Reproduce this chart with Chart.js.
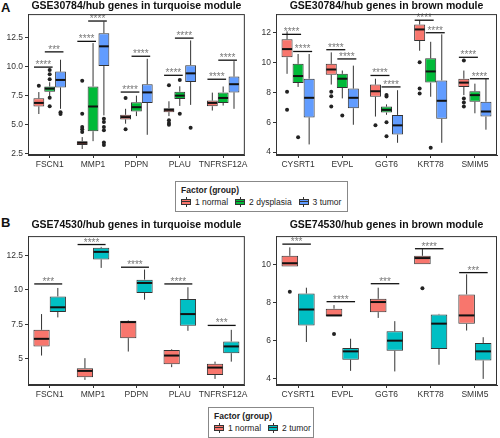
<!DOCTYPE html>
<html>
<head>
<meta charset="UTF-8" />
<title>Hub genes boxplots</title>
<script src="https://cdn.jsdelivr.net/npm/chart.js@4/dist/chart.umd.min.js"></script>
<style>
  body { margin: 0; background: #fff; font-family: "Liberation Sans", Arial, sans-serif; }
  #fig { position: relative; width: 500px; height: 438px; overflow: hidden; background: #fff; }
  .pane { position: absolute; }
  .tag { position: absolute; left: 1px; font-weight: bold; font-size: 13px; color: #111; }
  .legend { position: absolute; border: 1px solid #888; box-sizing: border-box; background: #fff;
            font-size: 8.5px; line-height: 10px; color: #222; padding: 3px 0 0 5px; white-space: nowrap; }
  .legend b { display: block; font-size: 8.5px; margin-bottom: 2px; }
  .legend .it { display: inline-block; margin-right: 7px; }
  .key { display: inline-block; position: relative; width: 10px; height: 10px; vertical-align: middle; margin-right: 4px; top: -1px; }
  .key::before { content: ''; position: absolute; left: 4.5px; top: 0; bottom: 0; width: 1px; background: #333; }
  .key i { position: absolute; left: 0; right: 0; top: 2px; bottom: 2px; border: 1px solid #333; }
  .key i::after { content: ''; position: absolute; left: 0; right: 0; top: 50%; height: 1px; margin-top: -0.5px; background: #333; }
</style>
</head>
<body>
<div id="fig">
  <div class="tag" style="top:0px">A</div>
  <div class="tag" style="top:215px">B</div>
  <div class="pane" style="left:0;top:0;width:250px;height:175px"><canvas id="a1"></canvas></div>
  <div class="pane" style="left:250px;top:0;width:250px;height:175px"><canvas id="a2"></canvas></div>
  <div class="legend" style="left:175px;top:181px;width:173px;height:31px">
    <b>Factor (group)</b>
    <span class="it"><span class="key"><i style="background:#F8766D"></i></span>1 normal</span><span class="it"><span class="key"><i style="background:#00BA38"></i></span>2 dysplasia</span><span class="it" style="margin-right:0"><span class="key"><i style="background:#619CFF"></i></span>3 tumor</span>
  </div>
  <div class="pane" style="left:0;top:215px;width:250px;height:190px"><canvas id="b1"></canvas></div>
  <div class="pane" style="left:250px;top:215px;width:250px;height:190px"><canvas id="b2"></canvas></div>
  <div class="legend" style="left:208px;top:407px;width:106px;height:31px">
    <b>Factor (group)</b>
    <span class="it"><span class="key"><i style="background:#F8766D"></i></span>1 normal</span><span class="it" style="margin-right:0"><span class="key"><i style="background:#00BFC4"></i></span>2 tumor</span>
  </div>
</div>

<script>
// genes on the x axis
var genesTurq = ['FSCN1', 'MMP1', 'PDPN', 'PLAU', 'TNFRSF12A'];
var genesBrown = ['CYSRT1', 'EVPL', 'GGT6', 'KRT78', 'SMIM5'];

// each box: [lower whisker, Q1, median, Q3, upper whisker]
// GSE30784 turquoise
var a1Normal    = [[5.9, 6.55, 6.86, 7.26, 7.8], [2.87, 3.21, 3.41, 3.55, 3.9], [5.06, 5.43, 5.63, 5.83, 6.35], [5.72, 6.06, 6.26, 6.4, 7.0], [6.2, 6.57, 6.86, 7.06, 7.75]];
var a1Dysplasia = [[7.45, 7.83, 8.1, 8.28, 8.65], [3.55, 4.41, 6.55, 8.28, 12.04], [5.72, 6.12, 6.49, 6.92, 7.49], [6.6, 7.2, 7.49, 7.83, 8.3], [6.63, 6.86, 7.29, 7.77, 8.28]];
var a1Tumor     = [[6.35, 8.2, 8.85, 9.57, 10.6], [5.78, 10.05, 11.76, 12.9, 13.9], [4.1, 6.86, 7.77, 8.48, 10.68], [6.69, 8.68, 9.42, 10.13, 12.27], [6.35, 7.77, 8.48, 9.14, 10.48]];
var a1NormalOut    = [[8.35], [8.77, 5.92, 4.78, 4.58, 4.35], [7.29, 4.58], [8.4, 5.35, 5.12, 4.98], []];
var a1DysplasiaOut = [[9.7, 9.34, 8.9, 7.3, 6.57], [], [], [8.85, 5.92], []];
var a1TumorOut     = [[6.05, 5.9], [5.49, 5.2, 4.78, 4.5, 3.44, 3.21], [], [4.7], []];
// [gene, group a, group b, y, label]
var a1Sig = [[0, 0, 1, 9.96, '****'], [0, 1, 2, 11.28, '***'], [1, 0, 1, 12.19, '****'], [1, 1, 2, 13.95, '****'],
             [2, 0, 1, 7.8, '****'], [2, 1, 2, 10.9, '****'], [3, 0, 1, 9.25, '****'], [3, 1, 2, 12.47, '****'],
             [4, 0, 1, 8.91, '****'], [4, 1, 2, 10.56, '****']];
var a1Ticks = [2.5, 5, 7.5, 10, 12.5];

// GSE30784 brown
var a2Normal    = [[9.25, 10.36, 10.91, 11.57, 12.1], [8.53, 9.19, 9.54, 9.92, 10.69], [6.38, 7.71, 8.08, 8.53, 8.92], [10.8, 11.46, 12.23, 12.56, 12.85], [7.82, 8.37, 8.66, 8.92, 9.47]];
var a2Dysplasia = [[8.37, 8.64, 9.1, 9.92, 10.58], [7.6, 8.3, 8.92, 9.25, 9.47], [6.5, 6.65, 6.83, 7.05, 7.2], [7.71, 8.66, 9.41, 10.29, 11.4], [6.6, 7.38, 7.82, 8.08, 8.59]];
var a2Tumor     = [[4.51, 6.32, 7.64, 8.92, 10.58], [5.83, 6.94, 7.64, 8.26, 9.8], [4.62, 5.17, 5.79, 6.49, 8.15], [4.62, 6.23, 7.44, 8.81, 11.9], [5.5, 6.38, 6.72, 7.38, 8.92]];
var a2NormalOut    = [[8.04, 6.83], [8.04, 7.75, 7.05], [5.79], [10.03, 8.26, 7.93], [10.14, 7.6, 7.33, 7.05]];
var a2DysplasiaOut = [[4.99], [6.45], [7.82, 7.72, 6.0, 5.06], [4.29], []];
var a2TumorOut     = [[], [], [], [], []];
var a2Sig = [[0, 0, 1, 11.9, '****'], [0, 1, 2, 10.75, '****'], [1, 0, 1, 10.87, '****'], [1, 1, 2, 10.25, '****'],
             [2, 0, 1, 9.14, '****'], [2, 1, 2, 8.37, '****'], [3, 0, 1, 12.85, '****'], [3, 1, 2, 12.01, '****'],
             [4, 0, 1, 10.36, '****'], [4, 1, 2, 8.92, '****']];
var a2Ticks = [4, 6, 8, 10, 12];

// GSE74530 turquoise
var b1Normal = [[5.24, 5.9, 6.45, 7.1, 8.24], [3.48, 3.67, 4.13, 4.32, 5.05], [5.53, 6.5, 7.66, 7.76, 7.8], [4.4, 4.61, 5.24, 5.65, 5.7], [3.55, 3.84, 4.37, 4.64, 4.8]];
var b1Tumor  = [[8.0, 8.39, 8.73, 9.52, 10.13], [11.58, 12.19, 12.74, 13.03, 13.1], [9.28, 9.77, 10.49, 10.73, 11.46], [7.03, 7.4, 8.24, 9.33, 10.18], [4.8, 5.41, 5.9, 6.26, 7.1]];
var b1NormalOut = [[], [], [], [], []];
var b1TumorOut  = [[], [], [], [], []];
var b1Sig = [[0, 0, 1, 10.42, '***'], [1, 0, 1, 13.27, '****'], [2, 0, 1, 11.63, '****'], [3, 0, 1, 10.42, '****'], [4, 0, 1, 7.42, '***']];
var b1Ticks = [5, 7.5, 10, 12.5];

// GSE74530 brown
var b2Normal = [[9.88, 9.88, 10.05, 10.44, 10.88], [7.28, 7.28, 7.32, 7.67, 7.86], [7.19, 7.49, 8.02, 8.19, 8.77], [10.0, 10.0, 10.32, 10.44, 10.79], [6.53, 6.88, 7.32, 8.42, 9.47]];
var b2Tumor  = [[5.93, 6.79, 7.63, 8.47, 8.77], [4.42, 5.0, 5.44, 5.61, 6.1], [4.39, 5.47, 6.0, 6.49, 7.02], [4.74, 5.56, 6.89, 7.37, 7.4], [4.0, 4.96, 5.44, 5.88, 6.18]];
var b2NormalOut = [[8.56], [6.35], [], [8.74], []];
var b2TumorOut  = [[], [], [], [], []];
var b2Sig = [[0, 0, 1, 11.05, '***'], [1, 0, 1, 8.04, '****'], [2, 0, 1, 8.98, '***'], [3, 0, 1, 10.81, '****'], [4, 0, 1, 9.56, '***']];
var b2Ticks = [4, 6, 8, 10];

var RED = '#F8766D', GREEN = '#00BA38', BLUE = '#619CFF', TEAL = '#00BFC4';
var FONT = '"Liberation Sans", Arial, sans-serif';

// whiskers, medians, outliers, brackets and the panel frame
var boxPlugin = {
  id: 'boxes',
  beforeDatasetsDraw: function (chart) {
    var ctx = chart.ctx, y = chart.scales.y;
    ctx.save();
    ctx.strokeStyle = '#333';
    ctx.lineWidth = 1;
    chart.data.datasets.forEach(function (ds, i) {
      chart.getDatasetMeta(i).data.forEach(function (bar, j) {
        var s = ds.stats[j];
        ctx.beginPath();
        ctx.moveTo(bar.x, y.getPixelForValue(s[0]));
        ctx.lineTo(bar.x, y.getPixelForValue(s[1]));
        ctx.moveTo(bar.x, y.getPixelForValue(s[3]));
        ctx.lineTo(bar.x, y.getPixelForValue(s[4]));
        ctx.stroke();
      });
    });
    ctx.restore();
  },
  afterDatasetsDraw: function (chart) {
    var ctx = chart.ctx, y = chart.scales.y, a = chart.chartArea;
    ctx.save();
    chart.data.datasets.forEach(function (ds, i) {
      chart.getDatasetMeta(i).data.forEach(function (bar, j) {
        var s = ds.stats[j], w = bar.width;
        var ym = y.getPixelForValue(s[2]);
        ctx.strokeStyle = '#111';
        ctx.lineWidth = 2;
        ctx.beginPath();
        ctx.moveTo(bar.x - w / 2 + 0.5, ym);
        ctx.lineTo(bar.x + w / 2 - 0.5, ym);
        ctx.stroke();
        ctx.fillStyle = '#222';
        ds.outliers[j].forEach(function (v) {
          ctx.beginPath();
          ctx.arc(bar.x, y.getPixelForValue(v), 2, 0, Math.PI * 2);
          ctx.fill();
        });
      });
    });
    // significance brackets
    ctx.font = '10px ' + FONT;
    ctx.textAlign = 'center';
    ctx.textBaseline = 'alphabetic';
    chart.options.plugins.boxes.sig.forEach(function (g) {
      var b1 = chart.getDatasetMeta(g[1]).data[g[0]];
      var b2 = chart.getDatasetMeta(g[2]).data[g[0]];
      var x1 = b1.x - 0.45 * b1.width, x2 = b2.x + 0.27 * b2.width;
      var py = y.getPixelForValue(g[3]);
      ctx.strokeStyle = '#111';
      ctx.lineWidth = 1.3;
      ctx.beginPath();
      ctx.moveTo(x1, py);
      ctx.lineTo(x2, py);
      ctx.stroke();
      ctx.fillStyle = '#7a7a7a';
      ctx.fillText(g[4], (x1 + x2) / 2, py + 1);
    });
    ctx.strokeStyle = '#333';
    ctx.lineWidth = 1;
    ctx.strokeRect(a.left + 0.5, a.top + 0.5, a.right - a.left - 1, a.bottom - a.top - 1);
    ctx.restore();
  }
};

function box(label, stats, outliers, color) {
  return {
    label: label,
    data: stats.map(function (s) { return [s[1], s[3]]; }),
    stats: stats,
    outliers: outliers,
    backgroundColor: color,
    borderColor: '#333',
    borderWidth: 1,
    borderSkipped: false,
    barPercentage: 1,
    categoryPercentage: 0.75
  };
}

function makeChart(id, title, genes, datasets, sig, ticks, ymin, ymax, yw, padR, titlePad) {
  return new Chart(document.getElementById(id), {
    type: 'bar',
    data: { labels: genes, datasets: datasets },
    plugins: [boxPlugin],
    options: {
      responsive: true,
      maintainAspectRatio: false,
      animation: false,
      layout: { padding: { left: 0, right: padR, top: 0, bottom: 0 } },
      plugins: {
        legend: { display: false },
        tooltip: { enabled: false },
        title: {
          display: true, text: title, fullSize: false, color: '#111',
          font: { family: FONT, size: 10.5, weight: 'bold' },
          padding: titlePad
        },
        boxes: { sig: sig }
      },
      scales: {
        x: {
          grid: { display: true, drawOnChartArea: false, drawTicks: true, tickLength: 3, offset: false, color: '#333' },
          border: { display: true, color: '#333' },
          ticks: { color: '#333', font: { family: FONT, size: 8.5 }, padding: 2, autoSkip: false, maxRotation: 0 },
          afterFit: function (s) { s.height = 20; }
        },
        y: {
          min: ymin, max: ymax,
          grid: { display: true, drawOnChartArea: false, drawTicks: true, tickLength: 3, color: '#333' },
          border: { display: true, color: '#333' },
          ticks: {
            color: '#333', font: { family: FONT, size: 8.5 }, padding: 2,
            callback: function (v) { return ticks[0] % 1 ? v.toFixed(1) : (v % 1 ? v.toFixed(1) : String(v)); }
          },
          afterBuildTicks: function (s) { s.ticks = ticks.map(function (v) { return { value: v }; }); },
          afterFit: function (s) { s.width = yw; }
        }
      }
    }
  });
}

makeChart('a1', 'GSE30784/hub genes in turquoise module', genesTurq,
  [box('1 normal', a1Normal, a1NormalOut, RED), box('2 dysplasia', a1Dysplasia, a1DysplasiaOut, GREEN), box('3 tumor', a1Tumor, a1TumorOut, BLUE)],
  a1Sig, a1Ticks, 2.35, 14.55, 28, 2, { top: 0, bottom: 1.5 });

makeChart('a2', 'GSE30784/hub genes in brown module', genesBrown,
  [box('1 normal', a2Normal, a2NormalOut, RED), box('2 dysplasia', a2Dysplasia, a2DysplasiaOut, GREEN), box('3 tumor', a2Tumor, a2TumorOut, BLUE)],
  a2Sig, a2Ticks, 3.8, 13.26, 26, 3, { top: 0, bottom: 1.5 });

makeChart('b1', 'GSE74530/hub genes in turquoise module', genesTurq,
  [box('1 normal', b1Normal, b1NormalOut, RED), box('2 tumor', b1Tumor, b1TumorOut, TEAL)],
  b1Sig, b1Ticks, 3.11, 13.88, 28, 2, { top: 3.5, bottom: 5 });

makeChart('b2', 'GSE74530/hub genes in brown module', genesBrown,
  [box('1 normal', b2Normal, b2NormalOut, RED), box('2 tumor', b2Tumor, b2TumorOut, TEAL)],
  b2Sig, b2Ticks, 3.68, 11.47, 26, 3, { top: 3.5, bottom: 5 });
</script>
</body>
</html>
